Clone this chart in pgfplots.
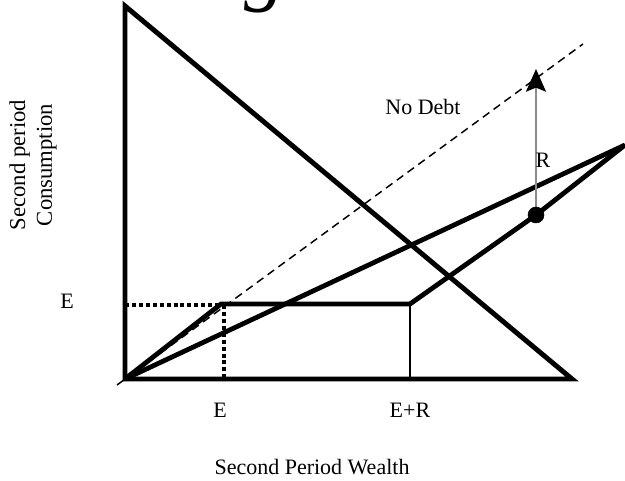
\documentclass[border=0pt]{standalone}
\usepackage{pgfplots}
\pgfplotsset{compat=1.18}
\usepackage{fontspec}
\setmainfont{Liberation Serif}
\usetikzlibrary{arrows.meta}
\begin{document}
\begin{tikzpicture}
\begin{axis}[x=0.75pt, y=0.75pt, xmin=-125, xmax=500, ymin=-102, ymax=379,
  hide axis, clip=false, scale only axis,
  every axis plot/.append style={line join=miter}]
% cut-off title glyph
\node[anchor=south, inner sep=0pt, font=\fontsize{62}{62}\selectfont\itshape] at (axis cs:140,366) {g};
% dashed no-debt line
\addplot[black, line width=1.1pt, dash pattern=on 6pt off 4pt] coordinates {(-8,-6) (458,335)};
% triangle (budget)
\addplot[black, line width=3.7pt] coordinates {(0,0) (0,373) (447,0) (0,0)} -- cycle;
% dotted guides
\addplot[black, line width=3pt, dash pattern=on 3pt off 2.2pt] coordinates {(0,74) (97,74)};
\addplot[black, line width=3pt, dash pattern=on 3pt off 2.2pt] coordinates {(99,74) (99,0)};
% thin vertical at E+R
\addplot[black, line width=1.5pt] coordinates {(285,75) (285,0)};
% straight line
\addplot[black, line width=3.6pt] coordinates {(0,0) (500,234)};
% kinked line
\addplot[black, line width=3.6pt] coordinates {(0,0) (96,75) (285,75) (411,164) (500,234)};
% arrow R
\addplot[gray!90, line width=1.5pt, -{Stealth[length=17pt,width=15pt,inset=3pt,color=black]}] coordinates {(411,164) (411,310)};
% dot
\addplot[black, only marks, mark=*, mark size=6pt] coordinates {(411,164)};
% texts
\node[font=\fontsize{16.5}{19}\selectfont] at (axis cs:298,272) {No Debt};
\node[font=\fontsize{16.5}{19}\selectfont] at (axis cs:418,219) {R};
\node[font=\fontsize{16.5}{19}\selectfont] at (axis cs:-58,78) {E};
\node[font=\fontsize{16.5}{19}\selectfont] at (axis cs:95,-31) {E};
\node[font=\fontsize{16.5}{19}\selectfont] at (axis cs:285,-31) {E+R};
\node[font=\fontsize{16.5}{19}\selectfont] at (axis cs:187,-88) {Second Period Wealth};
\node[font=\fontsize{17}{20}\selectfont, rotate=90, align=center] at (axis cs:-92,214) {Second period\\Consumption};
\coordinate (bl) at (axis cs:-125,-102);
\coordinate (tr) at (axis cs:500,379);
\end{axis}
\pgfresetboundingbox
\path[use as bounding box] (bl) rectangle (tr);
\end{tikzpicture}
\end{document}
